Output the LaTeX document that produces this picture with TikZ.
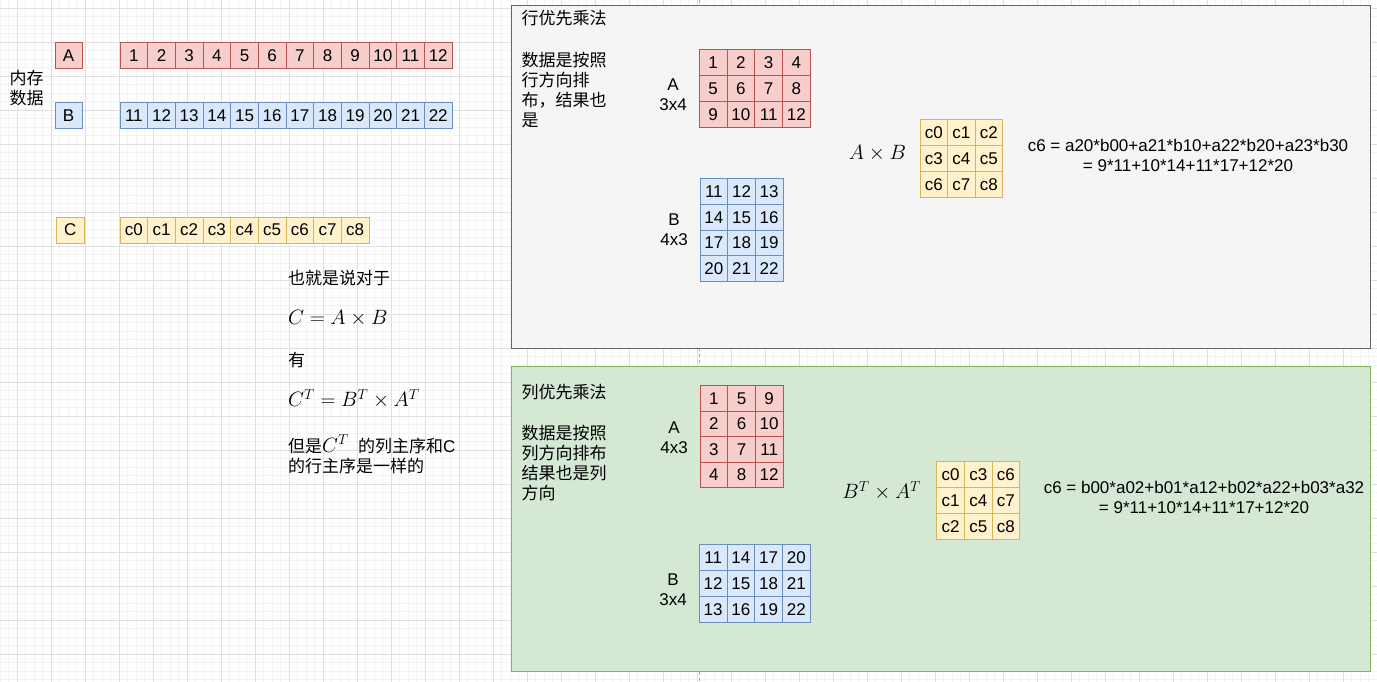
\documentclass[tikz,border=0pt]{standalone}
\usepackage[no-math]{fontspec}
\setmainfont{Liberation Sans}
\newfontfamily\cjk{Noto Sans CJK SC}
\definecolor{redF}{HTML}{F8CECC}
\definecolor{redD}{HTML}{B85450}
\definecolor{bluF}{HTML}{DAE8FC}
\definecolor{bluD}{HTML}{6C8EBF}
\definecolor{yelF}{HTML}{FFF2CC}
\definecolor{yelD}{HTML}{D6B656}
\definecolor{gryF}{HTML}{F5F5F5}
\definecolor{gryD}{HTML}{666666}
\definecolor{grnF}{HTML}{D5E8D4}
\definecolor{grnD}{HTML}{82B366}
\definecolor{gridMinor}{RGB}{243,243,243}
\definecolor{gridMajor}{RGB}{224,224,224}
\newcommand\mathsz{\fontsize{20}{24}\selectfont}
\tikzset{
  cell/.style={draw, line width=1pt, inner sep=0pt, outer sep=0pt},
  redc/.style={cell, fill=redF, draw=redD},
  bluc/.style={cell, fill=bluF, draw=bluD},
  yelc/.style={cell, fill=yelF, draw=yelD},
  panel/.style={draw, line width=1pt, anchor=north west, inner sep=0pt},
  txt/.style={inner sep=0pt, outer sep=0pt},
  lbl/.style={txt, align=center},
  para/.style={txt, align=left, anchor=west},
}
\begin{document}
\begin{tikzpicture}[x=1pt, y=-1pt, font=\fontsize{17}{20}\selectfont]
\useasboundingbox (0,0) rectangle (1377,682);
\fill[white] (0,0) rectangle (1377,682);
% grid
\foreach \i in {0,...,162} \draw[gridMinor, line width=1pt] ({0.3+8.5*\i},0) -- ({0.3+8.5*\i},682);
\foreach \j in {0,...,80} \draw[gridMinor, line width=1pt] (0,{-0.2+8.5*\j}) -- (1377,{-0.2+8.5*\j});
\foreach \i in {0,...,40} \draw[gridMajor, line width=1pt] ({17.3+34*\i},0) -- ({17.3+34*\i},682);
\foreach \j in {0,...,19} \draw[gridMajor, line width=1pt] (0,{8.3+34*\j}) -- (1377,{8.3+34*\j});
\draw[gray!70, dash pattern=on 3pt off 3pt, line width=1pt] (699.3,0) -- (699.3,682);

% ---------- memory data ----------
\node[txt, align=center] (mem) at (26.7,88.3) {\cjk 内存\\\cjk 数据};
\node[redc, minimum width=27pt, minimum height=26pt] (labA) at (68.5,55.3) {A};
\node[bluc, minimum width=27pt, minimum height=26pt] (labB) at (68.5,115.3) {B};
\node[yelc, minimum width=28pt, minimum height=26pt] (labC) at (70.3,230) {C};
\foreach \v [count=\i] in {1,...,12}
  \node[redc, minimum width=27.67pt, minimum height=26pt] (mA\i) at ({120+27.67*(\i-0.5)},55.3) {\v};
\foreach \v [count=\i] in {11,...,22}
  \node[bluc, minimum width=27.67pt, minimum height=26pt] (mB\i) at ({120+27.67*(\i-0.5)},115.3) {\v};
\foreach \v [count=\i] in {0,...,8}
  \node[yelc, minimum width=27.67pt, minimum height=26pt] (mC\i) at ({120+27.67*(\i-0.5)},230) {c\v};

% ---------- explanation ----------
\node[para] (t1) at (288,278.3) {\cjk 也就是说对于};
\node[txt, anchor=base west] (t2) at (288,324.5) {\mathsz $C = A \times B$};
\node[para] (t3) at (288,360) {\cjk 有};
\node[txt, anchor=base west] (t4) at (288,406.7) {\mathsz $C^T = B^T \times A^T$};
\node[para] (t5) at (288,454.3) {{\cjk 但是}{\mathsz$C^T$}\ \ {\cjk 的列主序和}C\\{\cjk 的行主序是一样的}};

% ---------- row-major panel ----------
\node[panel, draw=gryD, fill=gryF, minimum width=859pt, minimum height=343pt] (rowpanel) at (511.3,4.7) {};
\node[para] (rtitle) at (521.7,18.3) {\cjk 行优先乘法};
\node[para] (rdesc) at (521.7,89.7) {\cjk 数据是按照\\\cjk 行方向排\\\cjk 布，结果也\\\cjk 是};
\node[lbl] (rAl) at (673,94.5) {A\\3x4};
\node[lbl] (rBl) at (674,230) {B\\4x3};
\foreach \r in {1,2,3} \foreach \c in {1,...,4} {
  \pgfmathtruncatemacro\v{4*(\r-1)+\c}
  \node[redc, minimum width=27.75pt, minimum height=26pt] (rA-\r-\c) at ({699.3+27.75*(\c-0.5)},{49.3+26*(\r-0.5)}) {\v};
}
\foreach \r in {1,...,4} \foreach \c in {1,2,3} {
  \pgfmathtruncatemacro\v{10+3*(\r-1)+\c}
  \node[bluc, minimum width=27.67pt, minimum height=25.5pt] (rB-\r-\c) at ({700+27.67*(\c-0.5)},{179+25.5*(\r-0.5)}) {\v};
}
\node[txt] (rprod) at (877.5,153.3) {\mathsz $A \times B$};
\foreach \r in {1,2,3} \foreach \c in {1,2,3} {
  \pgfmathtruncatemacro\v{3*(\r-1)+\c-1}
  \node[yelc, minimum width=27.5pt, minimum height=26pt] (rC-\r-\c) at ({920+27.5*(\c-0.5)},{119.3+26*(\r-0.5)}) {c\v};
}
\node[lbl] (rform) at (1188,155.5) {c6 = a20*b00+a21*b10+a22*b20+a23*b30\\= 9*11+10*14+11*17+12*20};

% ---------- column-major panel ----------
\node[panel, draw=grnD, fill=grnF, minimum width=859pt, minimum height=305.5pt] (colpanel) at (511.3,365.5) {};
\node[para] (ctitle) at (521.7,391.7) {\cjk 列优先乘法};
\node[para] (cdesc) at (521.7,463) {\cjk 数据是按照\\\cjk 列方向排布\\\cjk 结果也是列\\\cjk 方向};
\node[lbl] (cAl) at (674,437.3) {A\\4x3};
\node[lbl] (cBl) at (673,590) {B\\3x4};
\foreach \r in {1,...,4} \foreach \c in {1,2,3} {
  \pgfmathtruncatemacro\v{\r+4*(\c-1)}
  \node[redc, minimum width=27.67pt, minimum height=25.5pt] (cA-\r-\c) at ({700+27.67*(\c-0.5)},{385.7+25.5*(\r-0.5)}) {\v};
}
\foreach \r in {1,2,3} \foreach \c in {1,...,4} {
  \pgfmathtruncatemacro\v{10+\r+3*(\c-1)}
  \node[bluc, minimum width=27.75pt, minimum height=26pt] (cB-\r-\c) at ({699.3+27.75*(\c-0.5)},{544.3+26*(\r-0.5)}) {\v};
}
\node[txt] (cprod) at (881.7,491) {\mathsz $B^T \times A^T$};
\foreach \r in {1,2,3} \foreach \c in {1,2,3} {
  \pgfmathtruncatemacro\v{(\r-1)+3*(\c-1)}
  \node[yelc, minimum width=27.7pt, minimum height=26pt] (cC-\r-\c) at ({936.7+27.7*(\c-0.5)},{461.3+26*(\r-0.5)}) {c\v};
}
\node[lbl] (cform) at (1204,497.5) {c6 = b00*a02+b01*a12+b02*a22+b03*a32\\= 9*11+10*14+11*17+12*20};
\end{tikzpicture}
\end{document}
